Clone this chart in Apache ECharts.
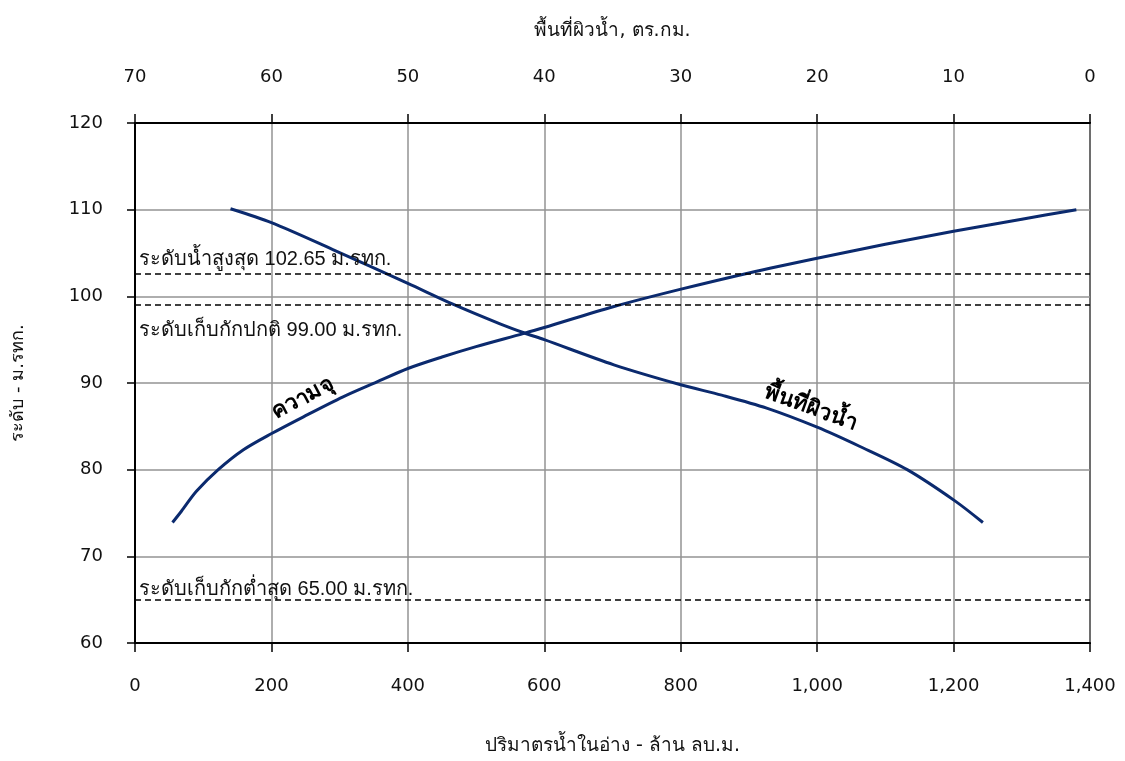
<!DOCTYPE html>
<html>
<head>
<meta charset="utf-8">
<script src="https://cdn.jsdelivr.net/npm/echarts@6/dist/echarts.min.js"></script>
<style>
html,body{margin:0;padding:0;background:#fff;}
#chart{width:1125px;height:761px;}
</style>
</head>
<body>
<div id="chart"></div>
<script>
// Storage (capacity) curve: [volume (million m3), level (m MSL)]
const capacityCurve = [
  [55, 73.9], [68, 75.2], [90, 77.5], [122, 80.0], [159, 82.3], [201, 84.2],
  [247, 86.1], [305, 88.4], [354, 90.1], [401, 91.7], [450, 93.0], [500, 94.2],
  [569, 95.7], [600, 96.4], [701, 98.8], [799, 100.8], [900, 102.7],
  [1000, 104.4], [1100, 106.0], [1200, 107.5], [1300, 108.9], [1380, 110.0]
];
// Water surface area curve: [area (km2), level (m MSL)]
const areaCurve = [
  [63.0, 110.1], [60.0, 108.5], [55.5, 105.4], [50.0, 101.5], [46.7, 99.1],
  [43.2, 96.8], [41.5, 95.8], [40.0, 95.0], [34.9, 92.1], [30.0, 89.8],
  [27.0, 88.6], [23.7, 87.1], [20.0, 84.9], [16.9, 82.7], [13.4, 80.0],
  [9.9, 76.4], [7.85, 73.9]
];
// Reference levels
const refLevels = [102.65, 99.00, 65.00];
const refLabels = ['ระดับน้ำสูงสุด 102.65 ม.รทก.', 'ระดับเก็บกักปกติ 99.00 ม.รทก.', 'ระดับเก็บกักต่ำสุด 65.00 ม.รทก.'];
const refLabelSide = ['insideStartTop', 'insideStartBottom', 'insideStartTop'];
const refLabelGap = [4, 15, 0];
// Curve labels: [volume, level, text, rotation deg]
const curveLabels = [
  [246, 88.2, 'ความจุ', 28],
  [990, 87.1, 'พื้นที่ผิวน้ำ', -20]
];
const bottomTicks = [0, 1400, 200];
const topTicks = [0, 70, 10];
const yTicks = [60, 120, 10];

const chart = echarts.init(document.getElementById('chart'));
const lineColor = '#0b2a6e';
const gridColor = '#939393';
const baseFont = 'Tahoma, "DejaVu Sans", sans-serif';

const option = {
  animation: false,
  backgroundColor: '#ffffff',
  grid: { left: 135, right: 35, top: 123, bottom: 112, show: true, borderColor: '#000', borderWidth: 2 },
  xAxis: [
    {
      type: 'value', position: 'bottom', min: bottomTicks[0], max: bottomTicks[1], interval: bottomTicks[2],
      name: 'ปริมาตรน้ำในอ่าง - ล้าน ลบ.ม.', nameLocation: 'middle', nameGap: 94,
      nameTextStyle: { fontSize: 19, color: '#111', fontFamily: baseFont },
      axisLine: { show: true, lineStyle: { color: '#000', width: 2 } },
      axisTick: { show: true, inside: false, length: 9, lineStyle: { color: '#000', width: 1.5 } },
      axisLabel: { margin: 34, fontSize: 18, color: '#111', fontFamily: baseFont,
        formatter: v => v.toLocaleString('en-US') },
      splitLine: { show: true, lineStyle: { color: gridColor, width: 1.5 } }
    },
    {
      type: 'value', position: 'top', min: topTicks[0], max: topTicks[1], interval: topTicks[2], inverse: true,
      name: 'พื้นที่ผิวน้ำ, ตร.กม.', nameLocation: 'middle', nameGap: 82,
      nameTextStyle: { fontSize: 19, color: '#111', fontFamily: baseFont },
      axisLine: { show: true, lineStyle: { color: '#000', width: 2 } },
      axisTick: { show: true, inside: false, length: 9, lineStyle: { color: '#000', width: 1.5 } },
      axisLabel: { margin: 37, fontSize: 18, color: '#111', fontFamily: baseFont },
      splitLine: { show: false }
    }
  ],
  yAxis: [
    {
      type: 'value', min: yTicks[0], max: yTicks[1], interval: yTicks[2],
      name: 'ระดับ - ม.รทก.', nameLocation: 'middle', nameGap: 108, nameRotate: 90,
      nameTextStyle: { fontSize: 18, color: '#111', fontFamily: baseFont },
      axisLine: { show: true, lineStyle: { color: '#000', width: 2 } },
      axisTick: { show: true, inside: false, length: 8, lineStyle: { color: '#000', width: 1.5 } },
      axisLabel: { margin: 32, fontSize: 18, color: '#111', fontFamily: baseFont },
      splitLine: { show: true, lineStyle: { color: gridColor, width: 1.5 } }
    }
  ],
  series: [
    {
      name: 'ความจุ', type: 'line', xAxisIndex: 0, yAxisIndex: 0, data: capacityCurve,
      smooth: 0.3, showSymbol: false, symbol: 'none',
      lineStyle: { color: lineColor, width: 3 },
      markLine: {
        silent: true, symbol: 'none',
        lineStyle: { color: '#000', type: [6, 4], width: 1.6 },
        data: refLevels.map((lv, i) => ({
          yAxis: lv,
          label: { show: true, formatter: refLabels[i], position: refLabelSide[i], distance: [4, refLabelGap[i]],
            fontSize: 20, color: '#111', fontFamily: 'Arial, "Liberation Sans", sans-serif' }
        }))
      },
      z: 3
    },
    {
      name: 'พื้นที่ผิวน้ำ', type: 'line', xAxisIndex: 1, yAxisIndex: 0, data: areaCurve,
      smooth: 0.3, showSymbol: false, symbol: 'none',
      lineStyle: { color: lineColor, width: 3 }, z: 3
    }
  ]
};
chart.setOption(option);

const graphics = curveLabels.map(c => {
  const p = chart.convertToPixel({ xAxisIndex: 0, yAxisIndex: 0 }, [c[0], c[1]]);
  return {
    type: 'text', x: p[0], y: p[1], rotation: c[3] * Math.PI / 180,
    style: { text: c[2], fill: '#000', font: 'bold 22px Tahoma, "DejaVu Sans", sans-serif', align: 'center', verticalAlign: 'middle' },
    z: 10
  };
});
chart.setOption({ graphic: graphics });
</script>
</body>
</html>
